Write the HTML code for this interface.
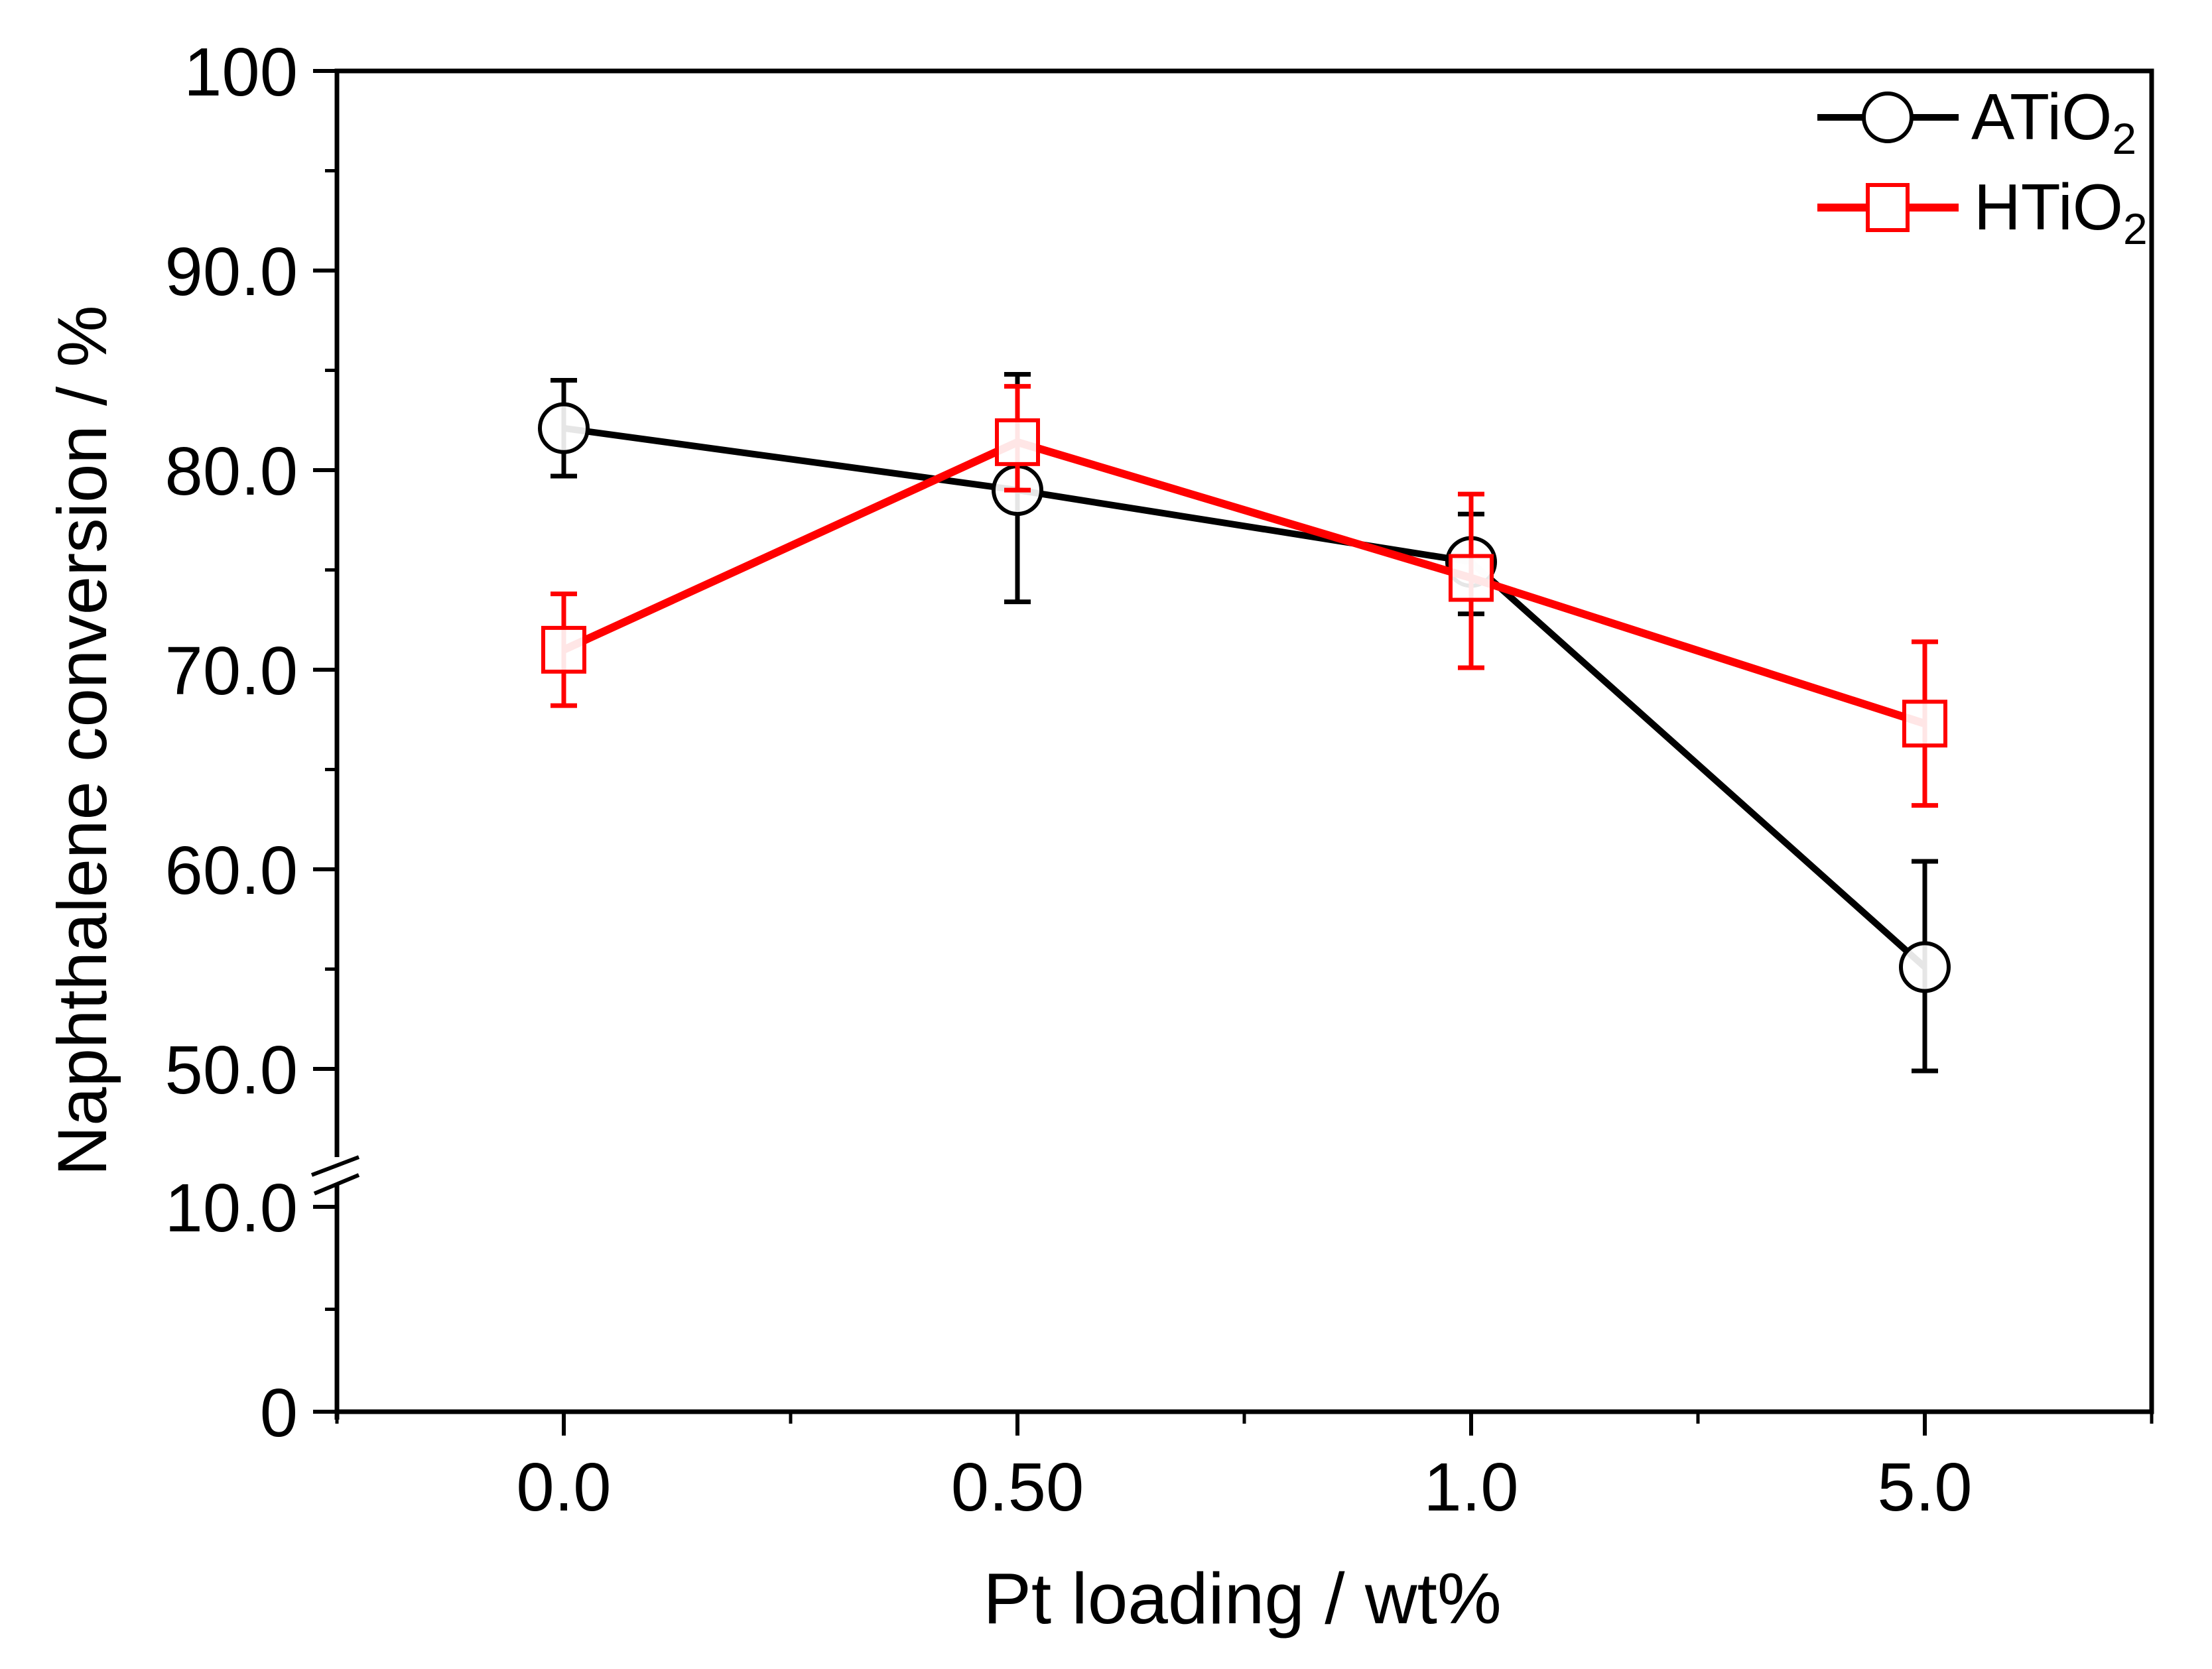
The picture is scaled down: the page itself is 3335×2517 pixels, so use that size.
<!DOCTYPE html>
<html><head><meta charset="utf-8"><style>
html,body{margin:0;padding:0;background:#fff;}
svg{display:block;font-family:"Liberation Sans",Arial,sans-serif;}
</style></head><body>
<svg id="chart" width="3335" height="2517" viewBox="0 0 3335 2517" xmlns="http://www.w3.org/2000/svg">
<g id="axes"></g>
<g id="series"></g>
<g id="legend">
  <line x1="2740" y1="177" x2="2953" y2="177" stroke="#000" stroke-width="10"/>
  <circle cx="2846" cy="177" r="36" fill="#fff" stroke="#000" stroke-width="6"/>
  <text x="2972" y="210" font-size="98">ATiO<tspan font-size="66" dy="22">2</tspan></text>
  <line x1="2740" y1="313" x2="2953" y2="313" stroke="#f00" stroke-width="12"/>
  <rect x="2816" y="279" width="60" height="68" fill="#fff" stroke="#f00" stroke-width="6"/>
  <text x="2976" y="346" font-size="98">HTiO<tspan font-size="66" dy="22">2</tspan></text>
</g>
<text x="1873" y="2448" font-size="109" text-anchor="middle">Pt loading / wt%</text>
<text transform="translate(160,1117) rotate(-90)" font-size="105" text-anchor="middle">Naphthalene conversion / %</text>
</svg>
<script>
const categories = ["0.0", "0.50", "1.0", "5.0"];
const atio2Values = [82.1, 79.0, 75.4, 55.1];
const atio2ErrLow = [79.7, 73.4, 72.8, 49.9];
const atio2ErrHigh = [84.5, 84.8, 77.8, 60.4];
const htio2Values = [71.0, 81.4, 74.6, 67.3];
const htio2ErrLow = [68.2, 79.0, 70.1, 63.2];
const htio2ErrHigh = [73.8, 84.2, 78.8, 71.4];
const upperTicks = [50, 60, 70, 80, 90, 100];
const upperTickLabels = ["50.0", "60.0", "70.0", "80.0", "90.0", "100"];
const lowerTicks = [0, 10];
const lowerTickLabels = ["0", "10.0"];

const NS = "http://www.w3.org/2000/svg";
const L = 508, R = 3244, T = 107, B = 2129;
function xs(i){ return L + (i + 0.5) * (R - L) / 4; }
function ys(v){
  if (v >= 45) return 1612 - (v - 50) * (1612 - 107) / 50;
  return 2129 - v * (2129 - 1820) / 10;
}
function mk(tag, attrs, parent){
  const e = document.createElementNS(NS, tag);
  for (const k in attrs) e.setAttribute(k, attrs[k]);
  parent.appendChild(e);
  return e;
}
const axes = document.getElementById('axes');
const series = document.getElementById('series');

let f = mk('rect', {x:L, y:T, width:R-L, height:B-T, fill:'none', stroke:'#000', 'stroke-width':7}, axes);


let la = mk('line', {x1:L, y1:1745, x2:L, y2:1785, stroke:'#fff', 'stroke-width':14}, axes);


let b1 = mk('line', {x1:470, y1:1772, x2:541, y2:1745, stroke:'#000', 'stroke-width':6}, axes);


let b2 = mk('line', {x1:474, y1:1800, x2:541, y2:1772, stroke:'#000', 'stroke-width':6}, axes);


let lb = mk('line', {x1:L, y1:B, x2:L, y2:B+12, stroke:'#000', 'stroke-width':7}, axes);



function yTick(v, label){
  const y = ys(v);
  const t = mk('line', {x1:L-36, y1:y, x2:L, y2:y, stroke:'#000', 'stroke-width':6}, axes);
  
  
  const tx = mk('text', {x:449, y:y+37, 'font-size':103, 'text-anchor':'end'}, axes);
  tx.textContent = label;
  
  
}
upperTicks.forEach((v,i)=>yTick(v, upperTickLabels[i]));
lowerTicks.forEach((v,i)=>yTick(v, lowerTickLabels[i]));
[55,65,75,85,95,5].forEach(v=>{
  const y = ys(v);
  const t = mk('line', {x1:L-18, y1:y, x2:L, y2:y, stroke:'#000', 'stroke-width':5}, axes);
  
  
});
categories.forEach((c,i)=>{
  const x = xs(i);
  const t = mk('line', {x1:x, y1:B, x2:x, y2:B+36, stroke:'#000', 'stroke-width':6}, axes);
  
  
  const tx = mk('text', {x:x, y:2278, 'font-size':103, 'text-anchor':'middle'}, axes);
  tx.textContent = c;
  
  
});
for (let i = -1; i < categories.length; i++){
  const x = xs(i + 0.5);
  const t = mk('line', {x1:x, y1:B, x2:x, y2:B+18, stroke:'#000', 'stroke-width':5}, axes);
  
  
}

function drawSeries(vals, lo, hi, color, shape, name, lw){
  const g = mk('g', {}, series);
  
  
  const pts = vals.map((v,i)=>xs(i)+','+ys(v)).join(' ');
  const pl = mk('polyline', {points:pts, fill:'none', stroke:color, 'stroke-width':lw, 'stroke-linejoin':'round'}, g);
  
  
  vals.forEach((v,i)=>{
    const x = xs(i);
    const e = mk('path', {d:`M${x},${ys(lo[i])}V${ys(hi[i])}M${x-20},${ys(lo[i])}H${x+20}M${x-20},${ys(hi[i])}H${x+20}`, fill:'none', stroke:color, 'stroke-width':7}, g);
    
    
  });
  vals.forEach((v,i)=>{
    const x = xs(i), y = ys(v);
    let m;
    if (shape === 'circle') m = mk('circle', {cx:x, cy:y, r:36, fill:'#fff', 'fill-opacity':0.9, stroke:color, 'stroke-width':6}, g);
    else m = mk('rect', {x:x-31, y:y-33, width:62, height:66, fill:'#fff', 'fill-opacity':0.9, stroke:color, 'stroke-width':6}, g);
    
    
  });
}
drawSeries(atio2Values, atio2ErrLow, atio2ErrHigh, '#000', 'circle', 'atio2', 10);
drawSeries(htio2Values, htio2ErrLow, htio2ErrHigh, '#f00', 'square', 'htio2', 12);
</script>
</body></html>
